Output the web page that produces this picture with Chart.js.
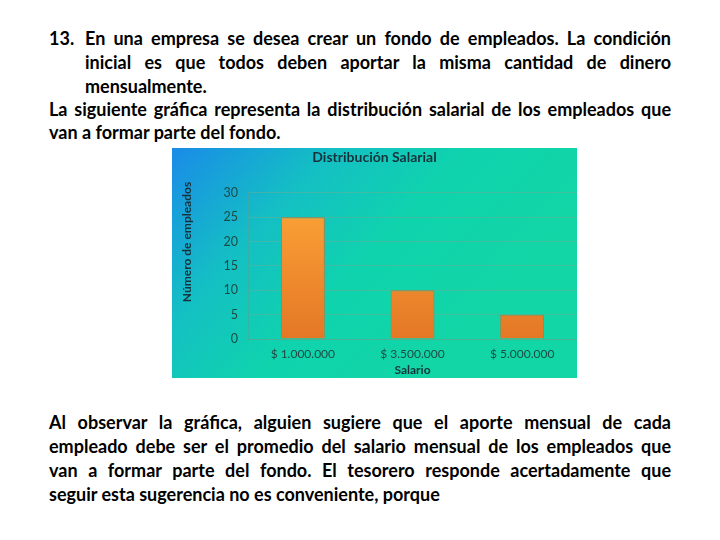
<!DOCTYPE html>
<html>
<head>
<meta charset="utf-8">
<script src="https://cdn.jsdelivr.net/npm/chart.js@4/dist/chart.umd.min.js"></script>
<style>
  body { margin: 0; background: #fff; width: 720px; height: 540px; position: relative; overflow: hidden; }
  .ln {
    position: absolute; left: 49px; width: 622px; height: 24px; line-height: 24px;
    font-family: "Lato", sans-serif; font-weight: bold; font-size: 18px;
    color: #000; white-space: nowrap; text-align: justify; text-align-last: justify;
  }
  .ln.ind { left: 85px; width: 586px; }
  .ln.last { text-align-last: left; }
  .num { position: absolute; left: -36px; }
  #wrap { position: absolute; left: 172px; top: 148px; width: 405px; height: 230px; }
</style>
</head>
<body>
<div class="ln ind" style="top:26px"><span class="num">13.</span>En una empresa se desea crear un fondo de empleados. La condición</div>
<div class="ln ind" style="top:50px">inicial es que todos deben aportar la misma cantidad de dinero</div>
<div class="ln ind last" style="top:74px">mensualmente.</div>
<div class="ln" style="top:97px">La siguiente gráfica representa la distribución salarial de los empleados que</div>
<div class="ln last" style="top:120px">van a formar parte del fondo.</div>

<div id="wrap"><canvas id="salaryChart" width="405" height="230"></canvas></div>

<div class="ln" style="top:410px">Al observar la gráfica, alguien sugiere que el aporte mensual de cada</div>
<div class="ln" style="top:434px">empleado debe ser el promedio del salario mensual de los empleados que</div>
<div class="ln" style="top:458px">van a formar parte del fondo. El tesorero responde acertadamente que</div>
<div class="ln last" style="top:482px">seguir esta sugerencia no es conveniente, porque</div>

<script>
const salaries = ['$ 1.000.000', '$ 3.500.000', '$ 5.000.000'];
const employees = [25, 10, 5];
const yTitle = 'Número de empleados';

const bgPlugin = {
  id: 'bg',
  beforeDraw(chart) {
    const { ctx, width, height } = chart;
    const g = ctx.createLinearGradient(0, 0, width * 0.6, height);
    g.addColorStop(0, '#1a8be8');
    g.addColorStop(0.35, '#14bfc4');
    g.addColorStop(0.65, '#0fd3ad');
    g.addColorStop(1, '#12d6a6');
    ctx.save();
    ctx.fillStyle = g;
    ctx.fillRect(0, 0, width, height);
    ctx.restore();
  },
  // y axis title sits a bit above the middle in the original
  afterDraw(chart) {
    const { ctx } = chart;
    ctx.save();
    ctx.translate(15, 94);
    ctx.rotate(-Math.PI / 2);
    ctx.font = 'bold 12px Lato, sans-serif';
    ctx.fillStyle = '#17323a';
    ctx.textAlign = 'center';
    ctx.textBaseline = 'middle';
    ctx.fillText(yTitle, 0, 0);
    ctx.restore();
  }
};

const ctx = document.getElementById('salaryChart').getContext('2d');
new Chart(ctx, {
  type: 'bar',
  data: {
    labels: salaries,
    datasets: [{
      data: employees,
      backgroundColor: (c) => {
        const area = c.chart.chartArea;
        if (!area) return '#f08a2c';
        const g = c.chart.ctx.createLinearGradient(0, area.top, 0, area.bottom);
        g.addColorStop(0, '#fda638');
        g.addColorStop(1, '#e47726');
        return g;
      },
      borderColor: '#c07435',
      borderWidth: 1,
      barPercentage: 0.4,
      categoryPercentage: 1
    }]
  },
  plugins: [bgPlugin],
  options: {
    responsive: false,
    animation: false,
    layout: { padding: 0 },
    plugins: {
      legend: { display: false },
      tooltip: { enabled: false },
      title: {
        display: true,
        text: 'Distribución Salarial',
        color: '#17323a',
        font: { family: 'Lato, sans-serif', size: 14, weight: 'bold' },
        padding: { top: 1, bottom: 27 }
      }
    },
    scales: {
      x: {
        grid: { display: false, drawTicks: false },
        border: { color: 'rgba(90,160,140,0.5)' },
        ticks: { color: '#1d4a44', font: { family: 'Lato, sans-serif', size: 12 }, padding: 8 },
        title: {
          display: true, text: 'Salario', color: '#17323a',
          font: { family: 'Lato, sans-serif', size: 12, weight: 'bold' },
          padding: { top: 0, bottom: 1 }
        },
        afterFit(scale) { scale.height = 39; }
      },
      y: {
        min: 0, max: 30,
        ticks: { stepSize: 5, color: '#1d4a44', font: { family: 'Lato, sans-serif', size: 12.5 }, padding: 10 },
        grid: { color: 'rgba(100,175,150,0.55)', drawTicks: false },
        border: { color: 'rgba(90,160,140,0.5)' },
        afterFit(scale) { scale.width = 76; }
      }
    }
  }
});
</script>
</body>
</html>
